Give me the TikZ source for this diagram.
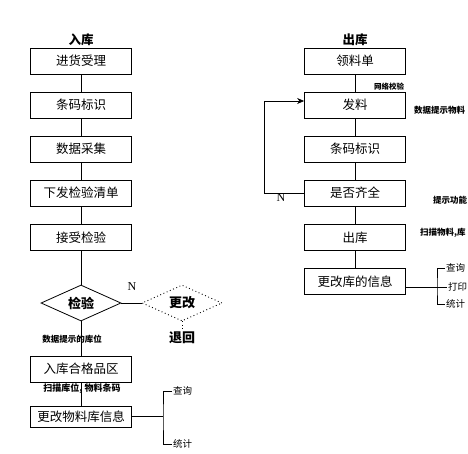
\documentclass[tikz,border=0pt]{standalone}
\usepackage{fontspec}
\setmainfont{Noto Sans CJK SC}
\newfontfamily\serifN{Liberation Serif}
\usetikzlibrary{positioning,arrows.meta,shapes.geometric,calc}
\tikzset{
  proc/.style={draw, line width=0.8pt, minimum width=101pt, minimum height=26pt, inner sep=0pt, font=\fontsize{12.5}{14}\selectfont},
  judge/.style={draw, line width=0.8pt, diamond, aspect=2.2, minimum width=80pt, minimum height=36pt, inner sep=0pt, font=\fontsize{13}{15}\selectfont\bfseries},
  title/.style={font=\fontsize{12.5}{14}\selectfont\bfseries, inner sep=1pt},
  note/.style={font=\fontsize{8.5}{10}\selectfont\bfseries, inner sep=1pt},
  item/.style={font=\fontsize{9.5}{11}\selectfont, inner sep=1pt, anchor=west},
  link/.style={line width=0.8pt},
  arrow/.style={-{Stealth[length=7pt,width=6pt]}, line width=0.8pt}
}
\begin{document}
\begin{tikzpicture}[x=1pt, y=-1pt]
  \useasboundingbox (0,0) rectangle (468,453);
  % stock in
  \node[title] (tin) at (81,40) {入库};
  \node[proc] (in1) at (81,61) {进货受理};
  \node[proc] (in2) at (81,105) {条码标识};
  \node[proc] (in3) at (81,149) {数据采集};
  \node[proc] (in4) at (81,193) {下发检验清单};
  \node[proc] (in5) at (81,237.5) {接受检验};
  \node[judge] (chk) at (81,303) {检验};
  \node[judge, line width=0.9pt, dash pattern=on 0.9pt off 2.6pt] (fix) at (182,303) {更改};
  \node[font=\fontsize{13}{15}\selectfont\bfseries, inner sep=1pt] (back) at (182,338) {退回};
  \node[font=\serifN\fontsize{12}{14}\selectfont, inner sep=1pt] (nin) at (132,287) {N};
  \node[note] (n1) at (72,339) {数据提示的库位};
  \node[proc] (in6) at (81,369) {入库合格品区};
  \node[note, font=\fontsize{9}{10}\selectfont\bfseries] (n2) at (82,389) {扫描库位, 物料条码};
  \node[proc, minimum height=21pt] (in7) at (81,416.5) {更改物料库信息};
  \foreach \a/\b in {in1/in2,in2/in3,in3/in4,in4/in5,in5/chk,chk/in6,in6/in7} \draw[link] (\a) -- (\b);
  \draw[link] (chk.east) -- (fix.west);
  \draw[line width=0.9pt, dash pattern=on 0.9pt off 2.6pt] (fix.south) -- (back.north);
  \node[item] (q1) at (172,391) {查询};
  \node[item] (s1) at (172,444) {统计};
  \coordinate (lbk) at (163,416.5);
  \draw[link] (in7.east) -- (lbk);
  \draw[link] (q1.west) -| (lbk) |- (s1.west);
  % stock out
  \node[title] (tout) at (355,40) {出库};
  \node[proc] (out1) at (355,61) {领料单};
  \node[proc] (out2) at (355,105) {发料};
  \node[proc] (out3) at (355,149) {条码标识};
  \node[proc] (out4) at (355,193) {是否齐全};
  \node[proc] (out5) at (355,237.5) {出库};
  \node[proc] (out6) at (355,281.5) {更改库的信息};
  \foreach \a/\b in {out1/out2,out2/out3,out3/out4,out4/out5,out5/out6} \draw[link] (\a) -- (\b);
  \draw[arrow] (out4.west) -- (264,193) |- ([yshift=4pt]out2.west);
  \node[font=\serifN\fontsize{12}{14}\selectfont, inner sep=1pt] (nout) at (281,198) {N};
  \node[font=\fontsize{7.5}{9}\selectfont\bfseries, inner sep=1pt] (n3) at (389,87) {网络校验};
  \node[note, anchor=west] (n4) at (413,110) {数据提示物料};
  \node[note, anchor=west] (n5) at (432,200) {提示功能};
  \node[note, anchor=west] (n6) at (419,233) {扫描物料,库};
  \node[item] (q2) at (445,268) {查询};
  \node[item] (p2) at (447,287) {打印};
  \node[item] (s2) at (445,304) {统计};
  \coordinate (rbk) at (437,287);
  \draw[link] (out6.east |- rbk) -- (rbk);
  \draw[link] (q2.west) -| (rbk) |- (s2.west);
  \draw[link] (rbk) -- (p2.west);
\end{tikzpicture}
\end{document}
